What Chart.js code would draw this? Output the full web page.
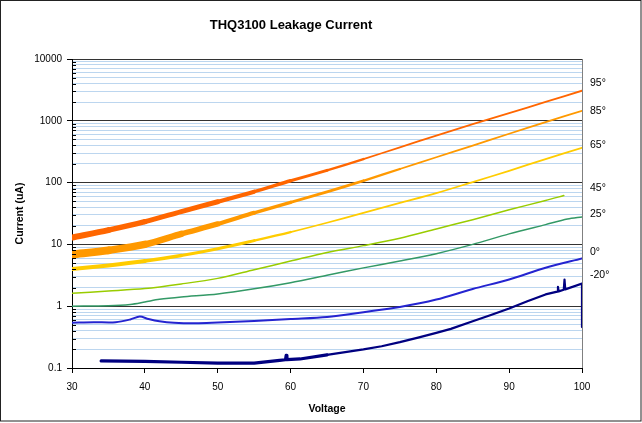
<!DOCTYPE html>
<html><head><meta charset="utf-8">
<script src="https://cdn.jsdelivr.net/npm/chart.js@4"></script>
<style>html,body{margin:0;padding:0;background:#fff}#wrap{width:642px;height:423px;position:relative}canvas{display:block}</style>
</head><body><div id="wrap"><canvas id="c" width="642" height="423"></canvas></div>
<script>
const chartTitle = 'THQ3100 Leakage Current';
const xTitle = 'Voltage';
const yTitle = 'Current (uA)';
const xTickLabels = ['30','40','50','60','70','80','90','100'];
const yTickLabels = ['0.1','1','10','100','1000','10000'];

const seriesNames = ['95\u00B0','85\u00B0','65\u00B0','45\u00B0','25\u00B0','0\u00B0','-20\u00B0'];
const labelLevels = [4000, 1450, 406, 81, 31, 7.6, 3.2];

const v95 = [30,35,40,45,50,55,60,65,70,75,80,85,90,95,100];
const i95 = [12.9,17,23.3,33.9,49,71.3,107,158,240,372,575,881,1334,2018,3070];
const v85 = [30,35,40,45,50,55,60,65,70,75,80,85,90,95,100];
const i85 = [6.9,8.0,10,14.8,21.4,32.4,47.9,70.8,107,166,257,398,617,955,1450];
const v65 = [30,35,40,45,50,55,60,65,70,75,80,85,90,95,100];
const i65 = [4.0,4.57,5.37,6.6,8.5,11.5,15.8,22.4,32.4,46.8,67.6,102,155,240,366];
const v45 = [30,35,40,45,50,55,60,65,70,75,80,85,90,95,97.5];
const i45 = [1.62,1.76,1.93,2.29,2.82,3.89,5.37,7.41,9.55,12.6,17.8,25.1,36.3,51.3,61.7];
const v25 = [30,35,38,40,42,45,50,55,60,65,70,75,80,85,90,95,98,100];
const i25 = [1.0,1.02,1.07,1.17,1.29,1.41,1.58,1.91,2.4,3.16,4.17,5.37,7.08,10,14.8,20.9,25.7,27.8];
const v0 = [30,33,36,38,39.3,40.5,42,44,47,50,55,60,65,70,75,80,85,90,95,100];
const i0 = [0.54,0.55,0.55,0.61,0.68,0.62,0.57,0.54,0.53,0.545,0.575,0.62,0.67,0.8,0.97,1.28,1.9,2.7,4.2,5.9];
const vm20 = [34,40,45,50,55,58.5,59.3,59.4,59.5,61.3,65,70,72.5,75,77.5,80,82,85,87.5,90,92.5,95,96.6,96.7,96.8,97.5,97.6,97.7,100,100];
const im20 = [0.13,0.128,0.124,0.12,0.12,0.133,0.136,0.16,0.137,0.14,0.163,0.2,0.225,0.262,0.31,0.37,0.43,0.57,0.72,0.92,1.2,1.55,1.72,2.05,1.74,1.85,2.7,1.87,2.32,0.46];

const FONT = "'Liberation Sans', Arial, sans-serif";
Chart.defaults.font.family = FONT;
Chart.defaults.color = '#000';

const colors = ['#FF6600','#FF9900','#FFCC00','#99CC00','#339966','#2424D0','#000080'];
// line width by voltage (noise band emulation)
const widthStops = [
  [[34,6],[40,5.5],[46,5],[52,4.2],[58,3.5],[64,3],[70,2.4],[200,1.8]],
  [[34,8],[38,7.5],[42,6.5],[46,5.5],[50,4.8],[55,4.2],[60,3.5],[66,2.8],[72,2.3],[200,1.8]],
  [[36,4],[44,3.5],[52,3],[60,2.5],[200,1.8]],
  [[200,1.5]],
  [[200,1.5]],
  [[200,2]],
  [[62,3.2],[200,2.2]]
];
function wFor(i){
  return ctx => {
    const x = ctx.p0.parsed.x;
    for (const [lim,w] of widthStops[i]) if (x < lim) return w;
    return 1.5;
  };
}
const pairs = (xs, ys) => xs.map((x,k)=>({x, y: ys[k]}));
const allData = [pairs(v95,i95),pairs(v85,i85),pairs(v65,i65),pairs(v45,i45),pairs(v25,i25),pairs(v0,i0),pairs(vm20,im20)];

const datasets = allData.map((d,i)=>({
  label: seriesNames[i],
  data: d,
  borderColor: colors[i],
  backgroundColor: colors[i],
  borderWidth: 2,
  pointRadius: 0,
  tension: i === 6 ? 0 : 0.3,
  borderCapStyle: 'round',
  borderJoinStyle: 'round',
  segment: { borderWidth: wFor(i) }
}));

const yTickValues = [];
yTickLabels.forEach((lab, k) => {
  const base = parseFloat(lab);
  if (k < yTickLabels.length - 1) { for (let m = 1; m <= 9; m++) yTickValues.push(+(base*m).toPrecision(6)); }
  else yTickValues.push(base);
});
const isMajor = v => yTickLabels.some(l => Math.abs(parseFloat(l) - v) < 1e-9 * Math.max(1, v));

const deco = {
  id: 'deco',
  beforeDraw(chart){
    const c = chart.ctx; c.save(); c.fillStyle = '#fff'; c.fillRect(0,0,chart.width,chart.height); c.restore();
  },
  afterDraw(chart){
    const c = chart.ctx, a = chart.chartArea, y = chart.scales.y;
    c.save();
    c.strokeStyle = '#808080'; c.lineWidth = 1;
    c.beginPath(); c.moveTo(Math.round(a.right)+0.5, a.top); c.lineTo(Math.round(a.right)+0.5, a.bottom); c.stroke();
    c.strokeStyle = '#000';
    c.beginPath();
    yTickValues.forEach(v => { if (!isMajor(v)) { const p = Math.round(y.getPixelForValue(v))+0.5; c.moveTo(a.left, p); c.lineTo(a.left+4, p); } });
    c.stroke();
    c.fillStyle = '#000'; c.font = '10.5px ' + FONT; c.textAlign = 'left'; c.textBaseline = 'middle';
    seriesNames.forEach((n,i) => c.fillText(n, a.right + 8, y.getPixelForValue(labelLevels[i])));
    c.strokeStyle = '#222'; c.lineWidth = 1;
    c.strokeRect(0.5, 0.5, chart.width - 1.5, chart.height - 2.5);
    c.restore();
  }
};

new Chart(document.getElementById('c'), {
  type: 'line',
  data: { datasets },
  options: {
    responsive: false, animation: false, devicePixelRatio: 1,
    layout: { padding: { left: 0, right: 60, top: 0, bottom: 0 } },
    plugins: {
      legend: { display: false },
      tooltip: { enabled: false },
      title: { display: true, text: chartTitle, color: '#000', font: { size: 13, weight: 'bold', family: FONT }, padding: { top: 18, bottom: 25.4 } }
    },
    scales: {
      x: {
        type: 'linear', min: 30, max: 100,
        ticks: { stepSize: 10, font: { size: 10 }, color: '#000', padding: 8,
          callback: (v) => xTickLabels.includes(String(v)) ? String(v) : '' },
        grid: { display: true, drawOnChartArea: false, drawTicks: true, tickLength: 5, tickColor: '#000', color: '#000' },
        border: { color: '#000', width: 1 },
        title: { display: true, text: xTitle, color: '#000', font: { size: 10.5, weight: 'bold' }, padding: { top: 0, bottom: 8 } },
        afterFit(s){ s.height = 55; s.paddingLeft = 0; s.paddingRight = 0; }
      },
      y: {
        type: 'logarithmic', min: 0.1, max: 10000,
        afterBuildTicks(s){ s.ticks = yTickValues.map(v => ({ value: v, major: isMajor(v) })); },
        ticks: { autoSkip: false, font: { size: 10 }, color: '#000', padding: 5,
          callback: (v) => { const i = yTickLabels.findIndex(l => Math.abs(parseFloat(l)-v) < 1e-9*Math.max(1,v)); return i >= 0 ? yTickLabels[i] : ''; } },
        grid: {
          color: ctx => (ctx.tick && isMajor(ctx.tick.value)) ? '#333' : '#BCD6EF',
          tickColor: ctx => (ctx.tick && isMajor(ctx.tick.value)) ? '#000' : 'rgba(0,0,0,0)',
          tickLength: 5, lineWidth: 1
        },
        border: { color: '#000', width: 1 },
        title: { display: true, text: yTitle, color: '#000', font: { size: 10.5, weight: 'bold' }, padding: { top: 14, bottom: 0 } },
        afterFit(s){ s.width = 72; s.paddingTop = 0; s.paddingBottom = 0; }
      }
    }
  },
  plugins: [deco]
});
</script></body></html>
